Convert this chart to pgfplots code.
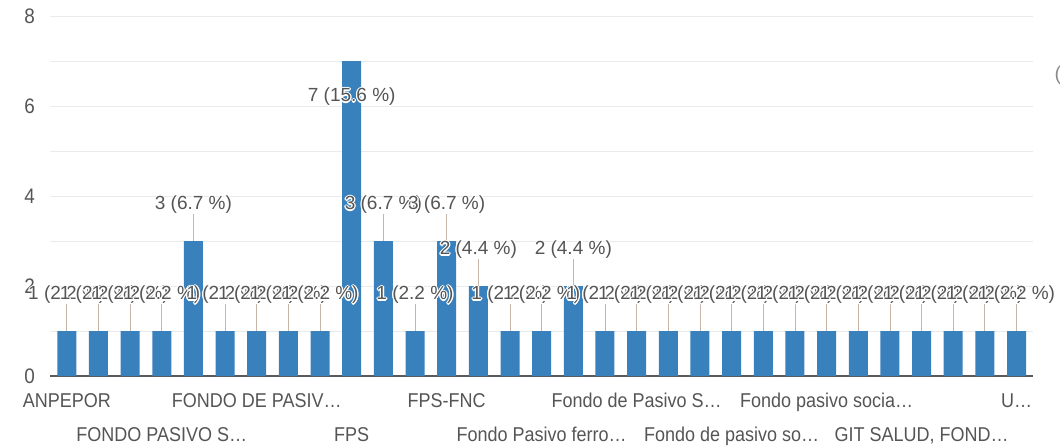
\documentclass[border=0pt]{standalone}
\usepackage{fontspec}
\setmainfont{Liberation Sans}
\newfontfamily\condensed{Liberation Sans}[FakeStretch=0.9]
\usepackage{pgfplots}
\usepackage{pgfplotstable}
\pgfplotsset{compat=1.18}
\definecolor{barblue}{RGB}{56,129,189}
\definecolor{leader}{RGB}{200,182,170}
\definecolor{gridc}{RGB}{234,234,234}
\definecolor{axisc}{RGB}{90,90,90}
\definecolor{txt}{RGB}{85,85,85}

\newcommand\halocopy[3]{\rlap{\kern#1\raisebox{#2}{\color{white}#3}}}
\newcommand\halo[1]{%
\halocopy{1.3pt}{0pt}{#1}\halocopy{-1.3pt}{0pt}{#1}%
\halocopy{0pt}{1.3pt}{#1}\halocopy{0pt}{-1.3pt}{#1}%
\halocopy{0.9pt}{0.9pt}{#1}\halocopy{-0.9pt}{0.9pt}{#1}%
\halocopy{0.9pt}{-0.9pt}{#1}\halocopy{-0.9pt}{-0.9pt}{#1}#1}
\newcommand\lbl{\pgfmathprintnumber[fixed,precision=0]{\cnt}\ (\pgfmathprintnumber[fixed,precision=1,fixed zerofill]{\pct}\ \%)}

\pgfplotstableread{
x  y  ly   cnt pct  err
0  1  1.8  1   2.2  0.6
1  1  1.8  1   2.2  0.6
2  1  1.8  1   2.2  0.6
3  1  1.8  1   2.2  0.6
4  3  3.8  3   6.7  0.6
5  1  1.8  1   2.2  0.6
6  1  1.8  1   2.2  0.6
7  1  1.8  1   2.2  0.6
8  1  1.8  1   2.2  0.6
9  7  6.2  7   15.6 0
10 3  3.8  3   6.7  0.6
11 1  1.8  1   2.2  0.6
12 3  3.8  3   6.7  0.6
13 2  2.8  2   4.4  0.6
14 1  1.8  1   2.2  0.6
15 1  1.8  1   2.2  0.6
16 2  2.8  2   4.4  0.6
17 1  1.8  1   2.2  0.6
18 1  1.8  1   2.2  0.6
19 1  1.8  1   2.2  0.6
20 1  1.8  1   2.2  0.6
21 1  1.8  1   2.2  0.6
22 1  1.8  1   2.2  0.6
23 1  1.8  1   2.2  0.6
24 1  1.8  1   2.2  0.6
25 1  1.8  1   2.2  0.6
26 1  1.8  1   2.2  0.6
27 1  1.8  1   2.2  0.6
28 1  1.8  1   2.2  0.6
29 1  1.8  1   2.2  0.6
30 1  1.8  1   2.2  0.6
}\datatable

\begin{document}
\begin{tikzpicture}
\begin{axis}[
  scale only axis,
  width=983pt, height=360pt,
  xmin=-0.53, xmax=30.52,
  ymin=0, ymax=8,
  axis x line*=bottom,
  axis y line*=left,
  x axis line style={draw=axisc, line width=1.3pt},
  y axis line style={draw=none},
  ytick={0,2,4,6,8},
  minor y tick num=1,
  ymajorgrids, yminorgrids,
  major grid style={draw=gridc, line width=0.9pt},
  minor grid style={draw=gridc, line width=0.9pt},
  major tick length=0pt, minor tick length=0pt,
  tick style={draw=none},
  /pgf/number format/assume math mode=true,
  yticklabel style={font=\condensed\fontsize{21}{23}\selectfont, text=txt, anchor=east, inner sep=0pt, xshift=-15pt},
  xtick={0,6,12,18,24,30},
  xticklabels={ANPEPOR, FONDO DE PASIV…, FPS-FNC, Fondo de Pasivo S…, Fondo pasivo socia…, U…},
  xticklabel style={font=\condensed\fontsize{20}{22}\selectfont, text=txt, anchor=north, inner sep=0pt, yshift=-17pt, text height=14pt, text depth=3pt},
  extra x ticks={3,9,15,21,27},
  extra x tick labels={FONDO PASIVO S…, FPS, Fondo Pasivo ferro…, Fondo de pasivo so…, {GIT SALUD, FOND…}},
  extra x tick style={xticklabel style={yshift=-34pt}, grid=none},
  clip=false,
]
\addplot[ybar, bar width=19pt, fill=barblue, draw=none] table[x=x, y=y]{\datatable};
\addplot[draw=none, mark=none, forget plot,
  error bars/.cd, y dir=plus, y explicit, error mark=none,
  error bar style={draw=leader, line width=0.8pt, solid}]
  table[x=x, y=y, y error=err]{\datatable};
\addplot[draw=none, mark=none,
  visualization depends on={\thisrow{cnt}\as\cnt},
  visualization depends on={\thisrow{pct}\as\pct},
  nodes near coords={\halo{\lbl}},
  every node near coord/.append style={anchor=center, inner sep=0pt, text=txt, font=\fontsize{19}{21}\selectfont},
  ] table[x=x, y=ly]{\datatable};
\end{axis}
\node[text=black!45, font=\fontsize{20}{22}\selectfont, anchor=center] at ([xshift=1008pt, yshift=301pt]current axis.south west) {(};
\pgfresetboundingbox
\path[use as bounding box] ([xshift=-50pt, yshift=-69pt]current axis.south west) rectangle ([xshift=1010pt, yshift=376pt]current axis.south west);
\end{tikzpicture}
\end{document}
